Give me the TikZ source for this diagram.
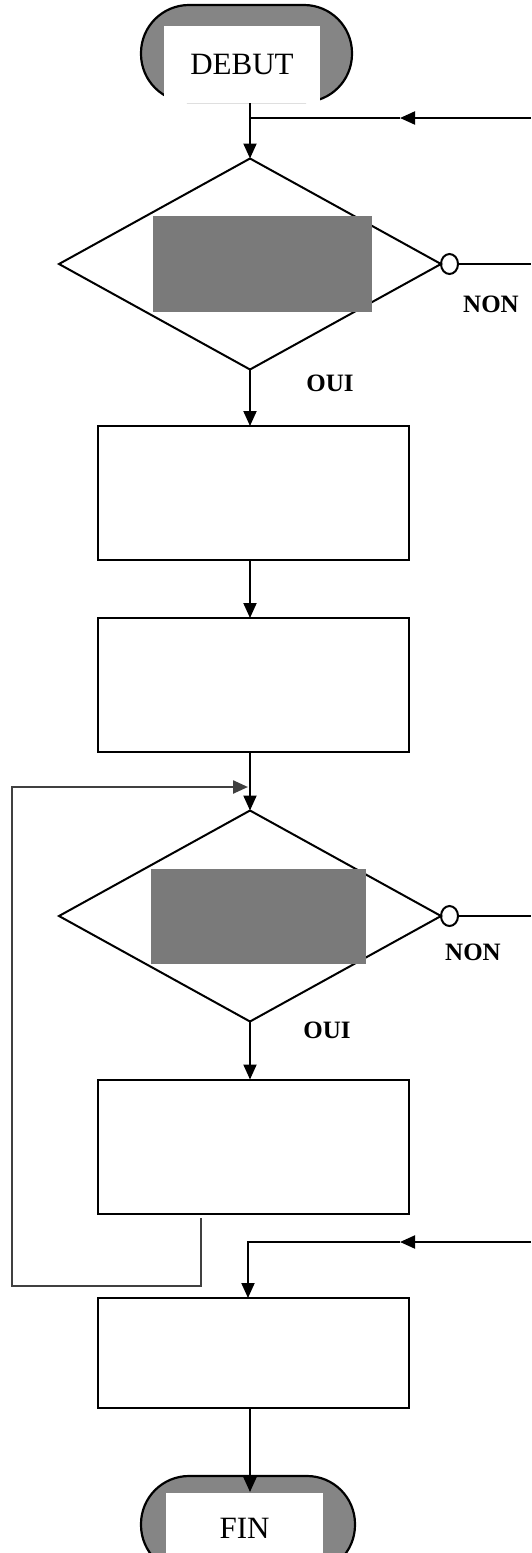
\documentclass[tikz,border=0pt]{standalone}
\usepackage{fontspec}
\setmainfont{Liberation Serif}
\usetikzlibrary{shapes.geometric,arrows.meta}
\begin{document}
\begin{tikzpicture}[x=1pt,y=-1pt,
  line width=2pt,
  arr/.style={-{Triangle[length=15pt,width=13pt]}},
  box/.style={draw,rectangle,minimum width=311pt,minimum height=134pt,inner sep=0pt,outer sep=0pt},
  dec/.style={draw,diamond,minimum width=382pt,minimum height=211pt,inner sep=0pt,outer sep=0pt},
  hatch/.style={rectangle,fill=black!52,draw=none,inner sep=0pt},
  term/.style={draw,line width=2.2pt,fill=black!48,rounded corners=48pt},
  termtext/.style={fill=white,inner sep=0pt,font=\fontsize{31}{31}\selectfont},
  lbl/.style={font=\fontsize{25}{25}\selectfont\bfseries,inner sep=0pt},
  circ/.style={draw,ellipse,minimum width=17pt,minimum height=20pt,inner sep=0pt,outer sep=0pt},
  loopline/.style={draw=black!75,line width=2.4pt}]
\clip (0,0) rectangle (531,1553);
\fill[white] (0,0) rectangle (531,1553);
% DEBUT
\draw[term] (141,5) rectangle (352,102);
\node[termtext,minimum width=156pt,minimum height=77pt] (debut) at (242,64.5) {DEBUT};
\coordinate (d0) at (250,103);
% decision 1
\node[dec] (dec1) at (250,264) {};
\node[hatch,minimum width=219pt,minimum height=96pt] (h1) at (262,264) {};
\node[circ,anchor=west] (c1) at (dec1.east) {};
\coordinate (e1) at (531,264);
\draw (c1.east) -- (e1);
\node[lbl] (non1) at (491,304) {NON};
\node[lbl] (oui1) at (330,383) {OUI};
% entry from right at top
\coordinate (r1) at (531,118);
\coordinate (r1m) at (400,118);
\coordinate (j1) at (250,118);
\draw[arr] (r1) -- (r1m);
\draw (r1m) -- (j1);
\draw[arr] (d0) -- (dec1.north);
% boxes
\node[box] (b1) at (253.5,493) {};
\node[box] (b2) at (253.5,685) {};
\draw[arr] (dec1.south) -- (b1.north -| dec1.south);
\draw[arr] (b1.south -| dec1.south) -- (b2.north -| dec1.south);
% decision 2
\node[dec] (dec2) at (250,916) {};
\node[hatch,minimum width=215pt,minimum height=95pt] (h2) at (258.5,916.5) {};
\node[circ,anchor=west] (c2) at (dec2.east) {};
\coordinate (e2) at (531,916);
\draw (c2.east) -- (e2);
\node[lbl] (non2) at (473,952) {NON};
\node[lbl] (oui2) at (327,1030) {OUI};
\draw[arr] (b2.south -| dec2.north) -- (dec2.north);
% box 3
\node[box] (b3) at (253.5,1146.5) {};
\draw[arr] (dec2.south) -- (b3.north -| dec2.south);
% loop back
\coordinate (l0) at (201,1218);
\coordinate (l1) at (201,1286);
\coordinate (l2) at (12,1286);
\coordinate (l3) at (12,787);
\coordinate (l4) at (248,787);
\draw[loopline,-{Triangle[length=15pt,width=13pt]}] (l0) -- (l1) -- (l2) -- (l3) -- (l4);
% entry from right at bottom
\coordinate (r2) at (531,1242);
\coordinate (r2m) at (400,1242);
\coordinate (j2) at (248,1242);
\node[box,minimum height=110pt] (b4) at (253.5,1353) {};
\draw[arr] (r2) -- (r2m);
\draw[arr] (r2m) -- (j2) -- (j2 |- b4.north);
% FIN
\draw[term] (141,1476) rectangle (355,1573);
\node[termtext,minimum width=157pt,minimum height=70pt,anchor=north] (fin) at (244.5,1492) {FIN};
\draw[arr] (b4.south -| dec2.south) -- (fin.north -| dec2.south);
\end{tikzpicture}
\end{document}
